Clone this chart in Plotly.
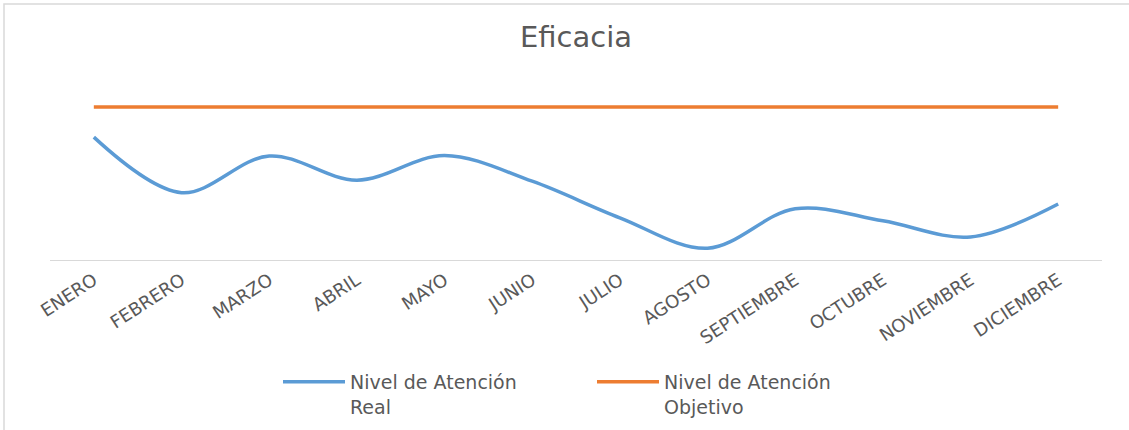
import plotly.graph_objects as go

months = ["ENERO", "FEBRERO", "MARZO", "ABRIL", "MAYO", "JUNIO", "JULIO",
          "AGOSTO", "SEPTIEMBRE", "OCTUBRE", "NOVIEMBRE", "DICIEMBRE"]
real = [80.3, 44.0, 68.0, 52.2, 68.3, 51.5, 27.6, 7.7, 33.5, 25.6, 15.1, 36.6]
objetivo = [100, 100, 100, 100, 100, 100, 100, 100, 100, 100, 100, 100]

W, H = 1129, 430
L, R, T, B = 50, 27, 70, 170

def px_x(px):
    return (px - L) / (W - L - R)

def px_y(py):
    return (H - B - py) / (H - B - T)

fig = go.Figure()
fig.add_trace(go.Scatter(
    x=months, y=real, mode="lines", name="Nivel de Atención<br>Real",
    line=dict(color="#5B9BD5", width=3.5, shape="spline", smoothing=1.0),
))
fig.add_trace(go.Scatter(
    x=months, y=objetivo, mode="lines", name="Nivel de Atención<br>Objetivo",
    line=dict(color="#ED7D31", width=3.5),
))

font_family = "'DejaVu Sans', 'Open Sans', sans-serif"
fig.update_layout(
    width=W, height=H,
    margin=dict(l=L, r=R, t=T, b=B, autoexpand=False),
    paper_bgcolor="white", plot_bgcolor="white",
    title=dict(text="Eficacia", x=0.5, xref="paper", xanchor="center",
               y=1 - 37 / H, yanchor="middle", yref="container",
               font=dict(size=29, color="#595959", family=font_family)),
    xaxis=dict(type="category", range=[-0.5, 11.5], showline=True,
               linecolor="#D9D9D9", linewidth=1, showgrid=False, ticks="",
               tickangle=-33, ticklabelstandoff=2,
               tickfont=dict(size=18, color="#595959", family=font_family),
               fixedrange=True, zeroline=False, automargin=False),
    yaxis=dict(range=[0, 124.2], visible=False, showgrid=False, zeroline=False),
    legend=dict(orientation="h", x=px_x(278), xanchor="left",
                y=px_y(363), yanchor="top", valign="top", itemwidth=62,
                font=dict(size=19, color="#595959", family=font_family),
                entrywidth=237, traceorder="normal"),
    showlegend=True,
)
fig.add_shape(type="rect", xref="paper", yref="paper",
              x0=px_x(4), x1=px_x(1140), y0=px_y(440), y1=px_y(4),
              line=dict(color="#D9D9D9", width=1.5), fillcolor="rgba(0,0,0,0)",
              layer="below")

fig.write_html("out.html")
